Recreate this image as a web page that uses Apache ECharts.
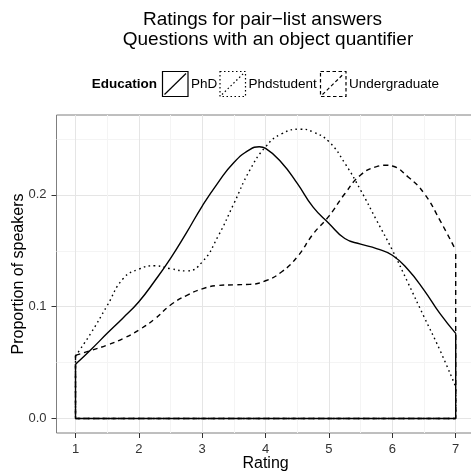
<!DOCTYPE html>
<html>
<head>
<meta charset="utf-8">
<title>Ratings for pair-list answers</title>
<script src="https://cdn.jsdelivr.net/npm/echarts@6/dist/echarts.min.js"></script>
<style>
  html, body { margin: 0; padding: 0; background: #fff; }
  #chart { width: 471px; height: 471px; }
</style>
</head>
<body>
<div id="chart"></div>
<script>
// data (density estimate per group)
var phdX = [1, 1.25, 1.5, 1.75, 2, 2.25, 2.5, 2.75, 3, 3.25, 3.5, 3.75, 3.9, 4,
  4.25, 4.5, 4.75, 5, 5.25, 5.5, 5.75, 6, 6.25, 6.5, 6.75, 7];
var phd = [0.0485, 0.062, 0.0762, 0.090, 0.1045, 0.123, 0.1432, 0.166, 0.190,
  0.211, 0.229, 0.2405, 0.243, 0.2415, 0.229, 0.2103, 0.189, 0.1745, 0.161,
  0.156, 0.152, 0.146, 0.133, 0.1149, 0.094, 0.0762];

var phdstudentX = [1, 1.25, 1.5, 1.75, 2, 2.25, 2.5, 2.75, 3, 3.25, 3.5, 3.75,
  4, 4.25, 4.55, 4.75, 5, 5.25, 5.5, 5.75, 6, 6.25, 6.5, 6.75, 7];
var phdstudent = [0.0559, 0.077, 0.101, 0.125, 0.1336, 0.1366, 0.134, 0.132,
  0.140, 0.163, 0.1923, 0.222, 0.243, 0.2545, 0.2587, 0.2562, 0.2475, 0.2283,
  0.2042, 0.1774, 0.1506, 0.121, 0.091, 0.0613, 0.0285];

var undergraduateX = [1, 1.25, 1.5, 1.75, 2, 2.25, 2.5, 2.75, 3, 3.25, 3.5,
  3.75, 4, 4.25, 4.5, 4.75, 5, 5.25, 5.5, 5.75, 5.9, 6, 6.25, 6.5, 6.75, 7];
var undergraduate = [0.0565, 0.061, 0.0657, 0.0715, 0.0792, 0.089, 0.1015,
  0.110, 0.116, 0.119, 0.1196, 0.120, 0.1232, 0.131, 0.1446, 0.165, 0.181,
  0.201, 0.2178, 0.2252, 0.2265, 0.2258, 0.216, 0.2015, 0.1774, 0.1506];

var xTicks = [1, 2, 3, 4, 5, 6, 7];
var xMinor = [1.5, 2.5, 3.5, 4.5, 5.5, 6.5];
var yTicks = [0, 0.1, 0.2];
var yMinor = [0.05, 0.15, 0.25];

var groups = [
  { name: 'PhD', xs: phdX, values: phd, dash: 'solid' },
  { name: 'Phdstudent', xs: phdstudentX, values: phdstudent, dash: [1.6, 3.4] },
  { name: 'Undergraduate', xs: undergraduateX, values: undergraduate, dash: [5, 4] }
];

var font = 'Liberation Sans, Arial, Helvetica, sans-serif';
var chart = echarts.init(document.getElementById('chart'));

var series = [];
groups.forEach(function (g) {
  var n = g.values.length;
  // curve
  series.push({
    name: g.name,
    type: 'line',
    smooth: 0.5,
    symbol: 'none',
    animation: false,
    lineStyle: { color: '#000', width: 1.4, type: g.dash },
    data: g.xs.map(function (r, i) { return [r, g.values[i]]; })
  });
  // closing edges of the density polygon
  series.push({
    name: g.name,
    type: 'line',
    symbol: 'none',
    animation: false,
    lineStyle: { color: '#000', width: 1.4, type: g.dash },
    data: [[g.xs[0], g.values[0]], [g.xs[0], 0], [g.xs[n - 1], 0], [g.xs[n - 1], g.values[n - 1]]]
  });
});

// hand drawn legend, ggplot style
var legendKeys = [
  { x: 162.5, label: 'PhD', dash: null },
  { x: 220, label: 'Phdstudent', dash: [1.5, 2.5] },
  { x: 320.5, label: 'Undergraduate', dash: [3.5, 2.5] }
];
var graphics = [
  { type: 'text', x: 262.5, y: 20, style: { text: 'Ratings for pair\u2212list answers', font: '19px ' + font, fill: '#000', textAlign: 'center', textVerticalAlign: 'middle' } },
  { type: 'text', x: 268, y: 39.5, style: { text: 'Questions with an object quantifier', font: '19px ' + font, fill: '#000', textAlign: 'center', textVerticalAlign: 'middle' } },
  { type: 'text', x: 157, y: 84.5, style: { text: 'Education', font: 'bold 13.5px ' + font, fill: '#000', textAlign: 'right', textVerticalAlign: 'middle' } }
];
legendKeys.forEach(function (k) {
  var st = { stroke: '#000', lineWidth: 1.2, fill: null };
  if (k.dash) st.lineDash = k.dash;
  graphics.push({ type: 'rect', shape: { x: k.x, y: 71.5, width: 25.5, height: 25 }, style: Object.assign({}, st) });
  graphics.push({ type: 'line', shape: { x1: k.x + 2, y1: 94.5, x2: k.x + 23.5, y2: 73.5 }, style: Object.assign({}, st) });
  graphics.push({ type: 'text', x: k.x + 28.5, y: 84.5, style: { text: k.label, font: '13.5px ' + font, fill: '#000', textAlign: 'left', textVerticalAlign: 'middle' } });
});

var option = {
  backgroundColor: '#fff',
  animation: false,
  textStyle: { fontFamily: font },
  grid: {
    left: 56.5, top: 115, right: -3.7, bottom: 38,
    containLabel: false, outerBoundsMode: 'none',
    show: true, borderColor: '#7f7f7f', borderWidth: 1, backgroundColor: '#fff'
  },
  xAxis: [
    {
      type: 'value', min: 0.7, max: 7.3,
      name: 'Rating', nameLocation: 'middle', nameGap: 23, nameMoveOverlap: false,
      nameTextStyle: { fontSize: 16, color: '#000', fontFamily: font },
      axisLine: { show: false, onZero: false },
      axisTick: { show: true, length: 5, customValues: xTicks, lineStyle: { color: '#333' } },
      axisLabel: { customValues: xTicks, fontSize: 13, color: '#333', margin: 10, fontFamily: font },
      splitLine: { show: true, lineStyle: { color: '#e5e5e5', width: 1 } }
    },
    {
      type: 'value', min: 0.7, max: 7.3, position: 'bottom',
      axisLine: { show: false, onZero: false },
      axisTick: { show: false, customValues: xMinor },
      axisLabel: { show: false, customValues: xMinor },
      splitLine: { show: true, lineStyle: { color: '#f4f4f4', width: 1 } }
    }
  ],
  yAxis: [
    {
      type: 'value', min: -0.0129, max: 0.2714,
      name: 'Proportion of speakers', nameLocation: 'middle', nameGap: 30, nameMoveOverlap: false,
      nameTextStyle: { fontSize: 16, color: '#000', fontFamily: font },
      axisLine: { show: false, onZero: false },
      axisTick: { show: true, length: 5, customValues: yTicks, lineStyle: { color: '#333' } },
      axisLabel: {
        customValues: yTicks, fontSize: 13, color: '#333', margin: 10, fontFamily: font,
        formatter: function (v) { return v.toFixed(1); }
      },
      splitLine: { show: true, lineStyle: { color: '#e5e5e5', width: 1 } }
    },
    {
      type: 'value', min: -0.0129, max: 0.2714, position: 'left',
      axisLine: { show: false, onZero: false },
      axisTick: { show: false, customValues: yMinor },
      axisLabel: { show: false, customValues: yMinor },
      splitLine: { show: true, lineStyle: { color: '#f4f4f4', width: 1 } }
    }
  ],
  series: series,
  graphic: graphics
};

chart.setOption(option);
</script>
</body>
</html>
